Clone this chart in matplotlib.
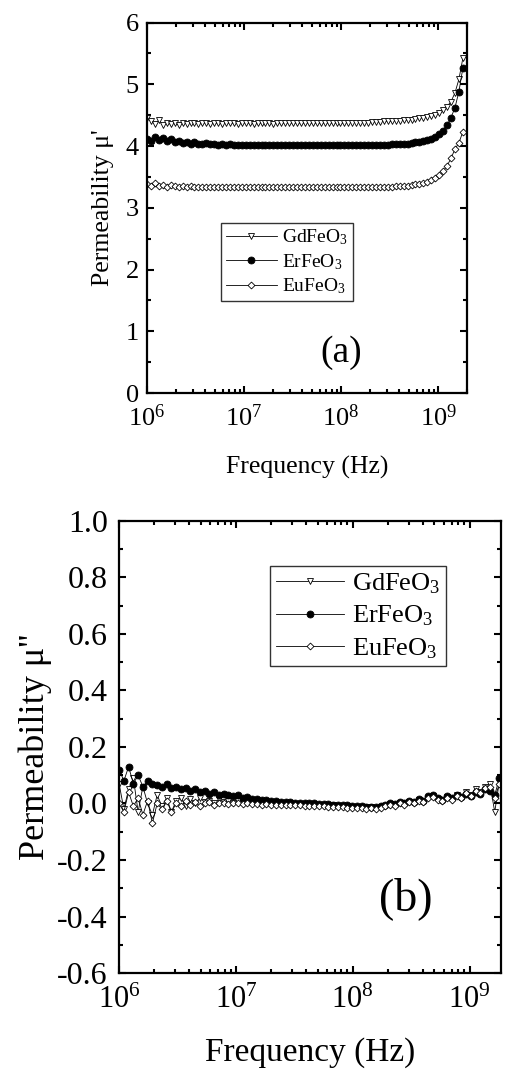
import numpy as np
import matplotlib
matplotlib.use("Agg")
import matplotlib.pyplot as plt
from matplotlib.ticker import (LogLocator, LogFormatterMathtext, MultipleLocator,
                               NullFormatter, FormatStrFormatter)

plt.rcParams["font.family"] = ["Liberation Serif", "DejaVu Serif"]
plt.rcParams["mathtext.fontset"] = "custom"
plt.rcParams["mathtext.rm"] = "Liberation Serif"
plt.rcParams["mathtext.it"] = "Liberation Serif:italic"

# sweep end frequencies (Hz)
F_START = 1e6
F_END = 1.8e9

LABELS = ["GdFeO$_3$", "ErFeO$_3$", "EuFeO$_3$"]

# ---- (a) real part mu' ----
gd_real = [4.45, 4.40, 4.36, 4.42, 4.34, 4.38, 4.35, 4.37, 4.34, 4.38, 4.36, 4.38, 4.37,
           4.36, 4.37, 4.37, 4.36, 4.37, 4.37, 4.36, 4.37, 4.37, 4.37, 4.36, 4.37, 4.37,
           4.37, 4.36, 4.37, 4.37, 4.37, 4.37, 4.36, 4.37, 4.37, 4.37, 4.37, 4.37, 4.37,
           4.37, 4.37, 4.37, 4.37, 4.37, 4.37, 4.37, 4.37, 4.37, 4.37, 4.37, 4.37, 4.38,
           4.38, 4.38, 4.38, 4.38, 4.38, 4.39, 4.39, 4.39, 4.40, 4.40, 4.40, 4.41, 4.41,
           4.42, 4.42, 4.43, 4.44, 4.45, 4.46, 4.47, 4.49,
           4.51, 4.54, 4.58, 4.64, 4.72, 4.86, 5.08, 5.42]
er_real = [4.12, 4.08, 4.14, 4.10, 4.13, 4.08, 4.11, 4.06, 4.09, 4.05, 4.07, 4.04, 4.06,
           4.04, 4.03, 4.05, 4.03, 4.04, 4.02, 4.03, 4.02, 4.03, 4.02, 4.02, 4.02, 4.01,
           4.02, 4.01, 4.02, 4.01, 4.01, 4.01, 4.01, 4.01, 4.01, 4.01, 4.01, 4.01, 4.01,
           4.01, 4.01, 4.01, 4.01, 4.01, 4.01, 4.01, 4.01, 4.01, 4.01, 4.01, 4.01, 4.01,
           4.01, 4.01, 4.01, 4.01, 4.01, 4.02, 4.02, 4.02, 4.02, 4.02, 4.03, 4.03, 4.03,
           4.04, 4.04, 4.05, 4.06, 4.07, 4.08, 4.10, 4.12,
           4.15, 4.19, 4.25, 4.34, 4.46, 4.62, 4.88, 5.26]
eu_real = [3.38, 3.36, 3.40, 3.35, 3.37, 3.34, 3.37, 3.35, 3.33, 3.36, 3.34, 3.35, 3.34,
           3.34, 3.33, 3.34, 3.33, 3.34, 3.33, 3.33, 3.34, 3.33, 3.33, 3.33, 3.33, 3.33,
           3.33, 3.33, 3.33, 3.33, 3.33, 3.33, 3.33, 3.33, 3.33, 3.33, 3.33, 3.33, 3.33,
           3.33, 3.33, 3.33, 3.33, 3.33, 3.33, 3.33, 3.33, 3.33, 3.33, 3.33, 3.33, 3.33,
           3.33, 3.33, 3.33, 3.33, 3.33, 3.33, 3.33, 3.34, 3.34, 3.34, 3.34, 3.35, 3.35,
           3.36, 3.36, 3.37, 3.38, 3.39, 3.40, 3.42, 3.45,
           3.48, 3.53, 3.59, 3.68, 3.80, 3.95, 4.05, 4.23]

# ---- (b) imaginary part mu'' ----
gd_imag = [0.07, -0.02, 0.05, 0.09, -0.03, 0.06, 0.0, -0.04, 0.03, -0.01, 0.02, -0.03, 0.01,
           0.02, -0.01, 0.015, 0.0, 0.02, 0.005, 0.01, 0.0, 0.015, 0.005, 0.01, 0.0, 0.008,
           0.005, 0.004, 0.002, 0.003, 0.001, 0.002, 0.0, 0.0, -0.001, 0.0, -0.002, -0.001, -0.003,
           -0.003, -0.004, -0.004, -0.005, -0.005, -0.006, -0.007, -0.008, -0.009, -0.01, -0.011, -0.012, -0.013,
           -0.014, -0.013, -0.015, -0.012, -0.008, -0.002, -0.006, 0.003, -0.002, 0.006, 0.002, 0.012, 0.006,
           0.02, 0.028, 0.016, 0.01, 0.022, 0.014, 0.03, 0.02,
           0.04, 0.03, 0.05, 0.04, 0.06, 0.07, -0.03, 0.08]
er_imag = [0.12, 0.08, 0.13, 0.07, 0.10, 0.06, 0.08, 0.07, 0.065, 0.06, 0.07, 0.055, 0.06,
           0.05, 0.055, 0.045, 0.05, 0.04, 0.045, 0.035, 0.04, 0.03, 0.035, 0.03, 0.025, 0.03,
           0.02, 0.022, 0.015, 0.017, 0.012, 0.012, 0.009, 0.008, 0.006, 0.005, 0.004, 0.003, 0.002,
           0.001, 0.0, 0.0, -0.002, -0.002, -0.003, -0.004, -0.005, -0.006, -0.007, -0.008, -0.009, -0.01,
           -0.012, -0.011, -0.012, -0.01, -0.006, 0.0, -0.003, 0.005, 0.0, 0.008, 0.004, 0.015, 0.01,
           0.025, 0.03, 0.02, 0.012, 0.025, 0.018, 0.03, 0.022,
           0.035, 0.028, 0.04, 0.035, 0.05, 0.045, 0.03, 0.09]
eu_imag = [0.0, -0.03, 0.04, -0.01, 0.02, -0.04, 0.01, -0.07, 0.0, -0.02, 0.01, -0.03, 0.0,
           -0.01, 0.01, -0.005, 0.005, -0.01, 0.0, 0.005, -0.005, 0.0, 0.002, -0.003, 0.0, 0.0,
           -0.002, 0.0, -0.003, -0.002, -0.004, -0.003, -0.005, -0.004, -0.006, -0.005, -0.006, -0.007, -0.007,
           -0.008, -0.008, -0.009, -0.01, -0.01, -0.011, -0.012, -0.013, -0.014, -0.015, -0.015, -0.016, -0.017,
           -0.018, -0.016, -0.018, -0.015, -0.01, -0.004, -0.009, 0.0, -0.005, 0.004, 0.0, 0.01, 0.004,
           0.018, 0.024, 0.012, 0.008, 0.02, 0.012, 0.028, 0.018,
           0.036, 0.028, 0.045, 0.038, 0.055, 0.06, 0.02, 0.07]

STYLES = [
    dict(marker="v", mfc="white", mec="black", ms=5),
    dict(marker="o", mfc="black", mec="black", ms=5),
    dict(marker="D", mfc="white", mec="black", ms=3.5),
]


def sweep(vals):
    return np.logspace(np.log10(F_START), np.log10(F_END), len(vals))


def style_axis(ax, xfs, yfs, xpad, ypad):
    ax.set_xscale("log")
    ax.xaxis.set_major_locator(LogLocator(base=10, numticks=10))
    ax.xaxis.set_minor_locator(LogLocator(base=10, subs=np.arange(2, 10), numticks=10))
    ax.xaxis.set_major_formatter(LogFormatterMathtext())
    ax.xaxis.set_minor_formatter(NullFormatter())
    ax.tick_params(which="both", direction="in", top=True, right=True, width=1.5)
    ax.tick_params(axis="x", labelsize=xfs, pad=xpad)
    ax.tick_params(axis="y", labelsize=yfs, pad=ypad)
    ax.tick_params(which="major", length=5)
    ax.tick_params(which="minor", length=3)
    for s in ax.spines.values():
        s.set_linewidth(1.6)


fig = plt.figure(figsize=(5.09, 10.74), dpi=100)

# (a)
axA = fig.add_axes([0.289, 0.634, 0.629, 0.345])
for vals, lab, st in zip([gd_real, er_real, eu_real], LABELS, STYLES):
    axA.plot(sweep(vals), vals, color="black", lw=0.6, mew=0.6, label=lab, **st)
style_axis(axA, 19, 19, 8, 6)
axA.set_xlim(1e6, 2e9)
axA.set_ylim(0, 6)
axA.yaxis.set_major_locator(MultipleLocator(1))
axA.yaxis.set_minor_locator(MultipleLocator(0.5))
axA.set_xlabel("Frequency (Hz)", fontsize=18.5, labelpad=18)
axA.set_ylabel("Permeability \u03bc'", fontsize=18.5, labelpad=8)
axA.text(0.672, 0.062, "(a)", transform=axA.transAxes, fontsize=27, ha="right", va="bottom")
legA = axA.legend(loc="center", bbox_to_anchor=(0.4375, 0.354), fontsize=14, frameon=True,
                  fancybox=False, edgecolor="black", numpoints=1, handlelength=2.6,
                  borderpad=0.25, labelspacing=0.25, handletextpad=0.3, borderaxespad=0)
legA.get_frame().set_linewidth(1.0)

# (b)
axB = fig.add_axes([0.234, 0.094, 0.750, 0.421])
for vals, lab, st in zip([gd_imag, er_imag, eu_imag], LABELS, STYLES):
    axB.plot(sweep(vals), vals, color="black", lw=0.6, mew=0.6, label=lab, **st)
style_axis(axB, 22, 23, 9, 8)
axB.set_xlim(1e6, 1.85e9)
axB.set_ylim(-0.6, 1.0)
axB.yaxis.set_major_locator(MultipleLocator(0.2))
axB.yaxis.set_minor_locator(MultipleLocator(0.1))
axB.yaxis.set_major_formatter(FormatStrFormatter("%.1f"))
axB.set_xlabel("Frequency (Hz)", fontsize=24, labelpad=16)
axB.set_ylabel("Permeability \u03bc''", fontsize=26, labelpad=4)
axB.text(0.82, 0.117, "(b)", transform=axB.transAxes, fontsize=33, ha="right", va="bottom")
legB = axB.legend(loc="upper right", bbox_to_anchor=(0.856, 0.90), fontsize=19, frameon=True,
                  fancybox=False, edgecolor="black", numpoints=1, handlelength=2.6,
                  borderpad=0.2, labelspacing=0.3, handletextpad=0.3, borderaxespad=0)
legB.get_frame().set_linewidth(1.0)

fig.savefig("out.png", dpi=100)
